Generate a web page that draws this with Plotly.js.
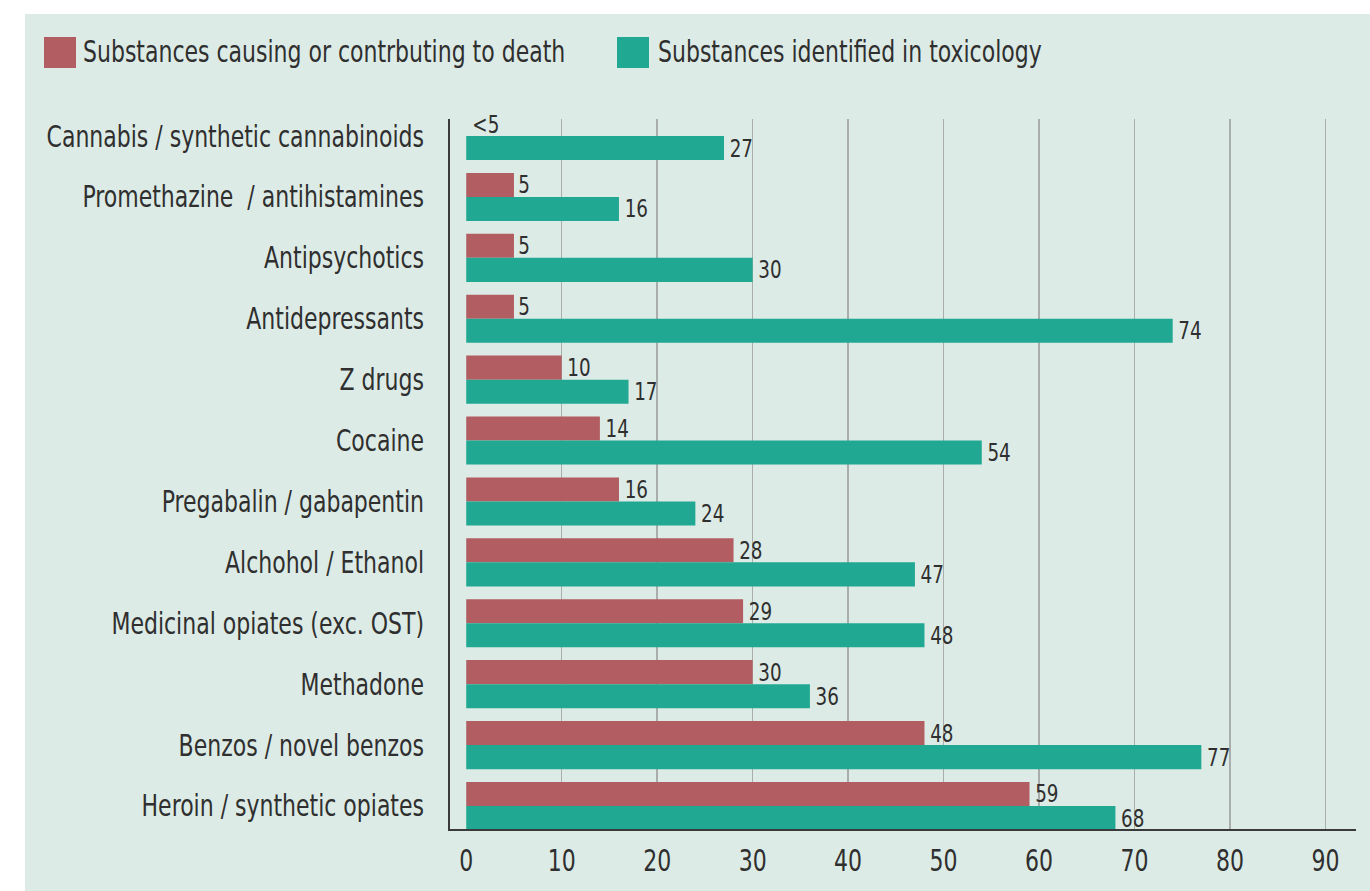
<!DOCTYPE html>
<html>
<head>
<meta charset="utf-8">
<script src="https://cdn.plot.ly/plotly-3.0.1.min.js"></script>
<style>
  html, body { margin: 0; padding: 0; background: #ffffff; }
  #chart { width: 1370px; height: 891px; }
</style>
</head>
<body>
<div id="chart"></div>
<script>
// Substance categories, listed top to bottom
const categories = [
  "Cannabis / synthetic cannabinoids",
  "Promethazine  / antihistamines",
  "Antipsychotics",
  "Antidepressants",
  "Z drugs",
  "Cocaine",
  "Pregabalin / gabapentin",
  "Alchohol / Ethanol",
  "Medicinal opiates (exc. OST)",
  "Methadone",
  "Benzos / novel benzos",
  "Heroin / synthetic opiates"
];

// Deaths where the substance caused or contributed (first row is suppressed: "<5")
const causingValues = [0, 5, 5, 5, 10, 14, 16, 28, 29, 30, 48, 59];
const causingLabels = ["<5", "5", "5", "5", "10", "14", "16", "28", "29", "30", "48", "59"];

// Deaths where the substance was identified in toxicology
const toxicologyValues = [27, 16, 30, 74, 17, 54, 24, 47, 48, 36, 77, 68];

const seriesNames = [
  "Substances causing or contrbuting to death",
  "Substances identified in toxicology"
];

const xTicks = [0, 10, 20, 30, 40, 50, 60, 70, 80, 90];

const RED = "#b15d61";
const TEAL = "#21a892";
const PANEL = "#ddebe6";
const INK = "#2f2f2f";
const FONT = "'Liberation Sans Narrow', 'DejaVu Sans Condensed', 'Arial Narrow', sans-serif";
// horizontal squeeze giving the condensed face its narrow set width
const SQUEEZE = 0.815;

// Plot area in pixels, used to place the panel and legend in paper units
const W = 1370, H = 891;
const M = { l: 450, r: 14, t: 119, b: 62 };
const PW = W - M.l - M.r, PH = H - M.t - M.b;
const px = v => (v - M.l) / PW;
const py = v => (H - M.b - v) / PH;

const traces = [
  {
    type: "bar", orientation: "h", name: seriesNames[0],
    y: categories, x: causingValues, text: causingLabels,
    textposition: "outside", constraintext: "none", cliponaxis: false,
    textfont: { family: FONT, size: 25, color: INK },
    marker: { color: RED }, showlegend: false, hoverinfo: "x+y"
  },
  {
    type: "bar", orientation: "h", name: seriesNames[1],
    y: categories, x: toxicologyValues, text: toxicologyValues.map(String),
    textposition: "outside", constraintext: "none", cliponaxis: false,
    textfont: { family: FONT, size: 25, color: INK },
    marker: { color: TEAL }, showlegend: false, hoverinfo: "x+y"
  }
];

const shapes = [
  // panel background
  { type: "rect", xref: "paper", yref: "paper", layer: "below",
    x0: px(25), x1: px(W + 5), y0: py(14), y1: py(H + 5),
    fillcolor: PANEL, line: { width: 0 } },
  // legend swatches
  { type: "rect", xref: "paper", yref: "paper",
    x0: px(44), x1: px(76), y0: py(37), y1: py(68),
    fillcolor: RED, line: { width: 0 } },
  { type: "rect", xref: "paper", yref: "paper",
    x0: px(617), x1: px(649), y0: py(37), y1: py(68),
    fillcolor: TEAL, line: { width: 0 } }
];

const annotations = [
  { xref: "paper", yref: "paper", x: px(81), y: py(52), xanchor: "left", yanchor: "middle", align: "left",
    text: seriesNames[0], showarrow: false, font: { family: FONT, size: 30, color: INK } },
  { xref: "paper", yref: "paper", x: px(656), y: py(52), xanchor: "left", yanchor: "middle", align: "left",
    text: seriesNames[1], showarrow: false, font: { family: FONT, size: 30, color: INK } }
];

const n = categories.length;
const layout = {
  width: W, height: H,
  margin: M,
  paper_bgcolor: "#ffffff",
  plot_bgcolor: "rgba(0,0,0,0)",
  barmode: "group",
  bargap: 0.21,
  bargroupgap: 0,
  showlegend: false,
  font: { family: FONT, color: INK },
  xaxis: {
    range: [-1.7, 93.2],
    tickvals: xTicks,
    ticktext: xTicks.map(String),
    ticks: "",
    ticklabelstandoff: 4,
    tickfont: { family: FONT, size: 30, color: INK },
    showgrid: true, gridcolor: "#a9adab", gridwidth: 1.5,
    zeroline: true, zerolinecolor: PANEL, zerolinewidth: 1,
    showline: true, linecolor: "#3a3a3a", linewidth: 2,
    fixedrange: true
  },
  yaxis: {
    type: "category",
    categoryorder: "array", categoryarray: categories,
    range: [n - 1 + 0.378, -0.28],
    ticks: "",
    ticklabelstandoff: 18,
    tickfont: { family: FONT, size: 30, color: INK },
    showgrid: false, zeroline: false,
    showline: true, linecolor: "#3a3a3a", linewidth: 2,
    fixedrange: true
  },
  shapes: shapes,
  annotations: annotations
};

Plotly.newPlot("chart", traces, layout, { displayModeBar: false, staticPlot: true }).then(gd => {
  // narrow every label around its own anchor point
  gd.querySelectorAll("svg text").forEach(t => {
    const len = t.getComputedTextLength();
    if (len > 0) {
      t.setAttribute("textLength", (len * SQUEEZE).toFixed(2));
      t.setAttribute("lengthAdjust", "spacingAndGlyphs");
    }
  });
});
</script>
</body>
</html>
